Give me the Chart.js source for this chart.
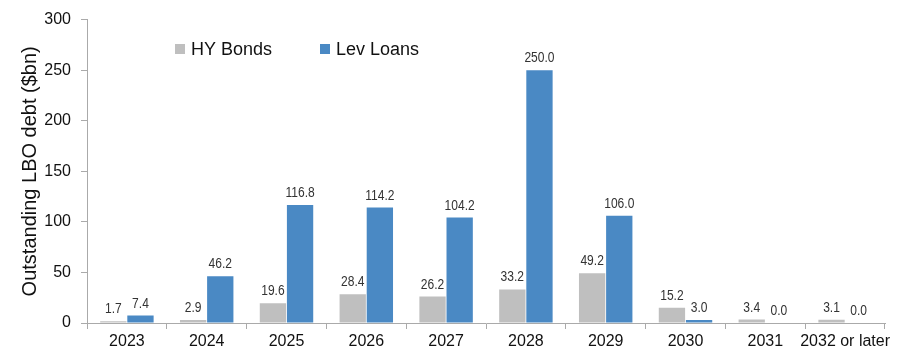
<!DOCTYPE html>
<html>
<head>
<meta charset="utf-8">
<script src="https://cdn.jsdelivr.net/npm/chart.js@4.4.0/dist/chart.umd.min.js"></script>
<style>
html,body{margin:0;padding:0;background:#fff;}
#wrap{width:900px;height:356px;position:relative;}
</style>
</head>
<body>
<div id="wrap"><canvas id="c" width="900" height="356"></canvas></div>
<script>
const categories = ["2023","2024","2025","2026","2027","2028","2029","2030","2031","2032 or later"];
const hyBonds = [1.7, 2.9, 19.6, 28.4, 26.2, 33.2, 49.2, 15.2, 3.4, 3.1];
const levLoans = [7.4, 46.2, 116.8, 114.2, 104.2, 250.0, 106.0, 3.0, 0.0, 0.0];
const seriesNames = ["HY Bonds", "Lev Loans"];
const yTitle = "Outstanding LBO debt ($bn)";

const FONT = "'Liberation Sans', Arial, sans-serif";

const labelPlugin = {
  id: 'labels',
  afterDatasetsDraw(chart) {
    const ctx = chart.ctx;
    chart.data.datasets.forEach((ds, i) => {
      const meta = chart.getDatasetMeta(i);
      meta.data.forEach((bar, j) => {
        ctx.save();
        ctx.font = "14px " + FONT;
        ctx.fillStyle = "#333";
        ctx.textAlign = "center";
        ctx.textBaseline = "alphabetic";
        ctx.translate(bar.x, bar.y - 8);
        ctx.scale(0.86, 1);
        ctx.fillText(ds.data[j].toFixed(1), 0, 0);
        ctx.restore();
      });
    });
  }
};

const legendPlugin = {
  id: 'customLegend',
  afterDraw(chart) {
    const ctx = chart.ctx;
    ctx.save();
    ctx.font = "18px " + FONT;
    ctx.textBaseline = "middle";
    ctx.textAlign = "left";
    const pos = [[175, 49], [320, 49]];
    chart.data.datasets.forEach((ds, i) => {
      const [x, y] = pos[i];
      ctx.fillStyle = ds.backgroundColor;
      ctx.fillRect(x, y - 5, 10, 10);
      ctx.fillStyle = "#111";
      ctx.fillText(ds.label, x + 16, y + 1);
    });
    ctx.restore();
  }
};

new Chart(document.getElementById('c'), {
  type: 'bar',
  data: {
    labels: categories,
    datasets: [
      { label: seriesNames[0], data: hyBonds, backgroundColor: "#BFBFBF", barPercentage: 0.97, categoryPercentage: 0.68 },
      { label: seriesNames[1], data: levLoans, backgroundColor: "#4A89C4", barPercentage: 0.97, categoryPercentage: 0.68 }
    ]
  },
  options: {
    responsive: false,
    animation: false,
    layout: { padding: { left: 18, right: 15, top: 11, bottom: 0 } },
    plugins: { legend: { display: false }, tooltip: { enabled: false } },
    scales: {
      x: {
        grid: { drawOnChartArea: false, drawTicks: true, tickLength: 6, color: "#aaa", offset: true },
        border: { color: "#aaa" },
        ticks: { color: "#111", font: { family: FONT, size: 16 }, padding: 3, maxRotation: 0, autoSkip: false },
        afterFit(s) { s.height = 33; }
      },
      y: {
        min: 0, max: 300,
        grid: { drawOnChartArea: false, drawTicks: true, tickLength: 6, color: "#aaa" },
        border: { color: "#aaa" },
        ticks: { stepSize: 50, color: "#111", font: { family: FONT, size: 16 }, padding: 10 },
        title: { display: true, text: yTitle, color: "#111", font: { family: FONT, size: 20 }, padding: 0 },
        afterFit(s) { s.width = 69; }
      }
    }
  },
  plugins: [labelPlugin, legendPlugin]
});
</script>
</body>
</html>
